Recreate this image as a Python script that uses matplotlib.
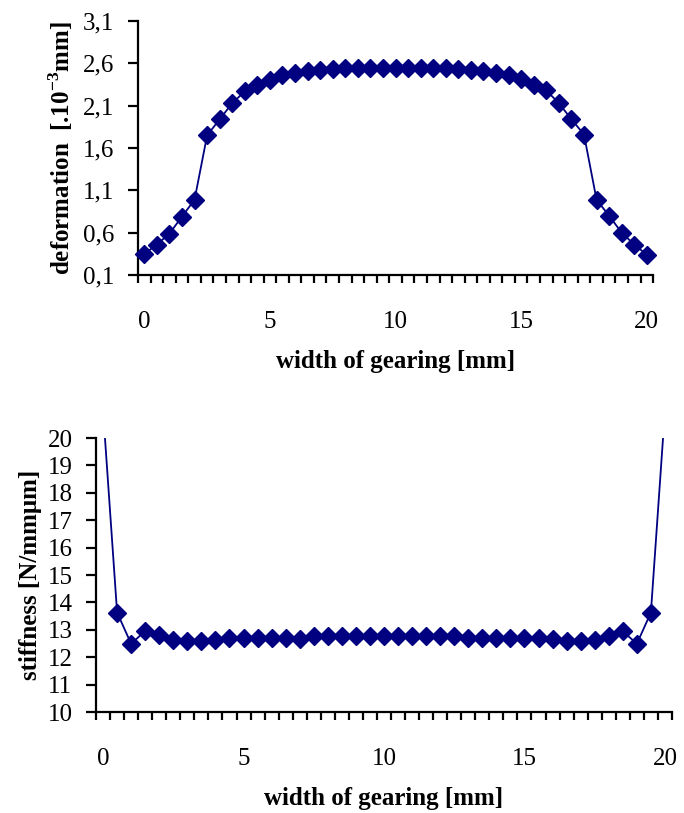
import matplotlib

matplotlib.use("Agg")
import matplotlib.pyplot as plt  # noqa: E402
import numpy as np  # noqa: E402
from matplotlib.ticker import FixedLocator, FuncFormatter  # noqa: E402

plt.rcParams["font.family"] = ["Liberation Serif", "DejaVu Serif"]
plt.rcParams["mathtext.fontset"] = "custom"
plt.rcParams["mathtext.rm"] = "Liberation Serif"
plt.rcParams["mathtext.bf"] = "Liberation Serif:bold"

# width of gearing [mm], one point every 0.5 mm
width = [i * 0.5 for i in range(41)]

deformation = [
    0.35, 0.46, 0.59, 0.79, 0.99, 1.75, 1.94, 2.13, 2.27, 2.34,
    2.40, 2.46, 2.49, 2.51, 2.52, 2.53, 2.54, 2.54, 2.54, 2.54,
    2.54,
    2.54, 2.54, 2.54, 2.54, 2.53, 2.52, 2.51, 2.49, 2.46, 2.41,
    2.34, 2.28, 2.13, 1.94, 1.76, 0.99, 0.80, 0.60, 0.46, 0.34,
]

stiffness = [
    21.0, 13.63, 12.49, 12.96, 12.80, 12.63, 12.58, 12.58, 12.62, 12.69,
    12.69, 12.69, 12.69, 12.69, 12.68, 12.77, 12.77, 12.77, 12.77, 12.76,
    12.77,
    12.77, 12.77, 12.77, 12.77, 12.76, 12.69, 12.69, 12.69, 12.69, 12.69,
    12.69, 12.66, 12.61, 12.61, 12.63, 12.79, 12.95, 12.49, 13.63, 21.0,
]

x_labels = [0, 5, 10, 15, 20]
def_ticks = [0.1, 0.6, 1.1, 1.6, 2.1, 2.6, 3.1]
stiff_ticks = list(range(10, 21))

COLOR = "#000080"
comma = FuncFormatter(lambda v, _: f"{v:.1f}".replace(".", ","))


def style_axes(ax, yticks, ylim):
    for side in ("top", "right"):
        ax.spines[side].set_visible(False)
    for side in ("left", "bottom"):
        ax.spines[side].set_linewidth(1.6)
    ax.set_xlim(-0.25, 20.25)
    ax.set_ylim(*ylim)
    ax.set_yticks(yticks)
    ax.set_xticks(x_labels)
    ax.xaxis.set_minor_locator(FixedLocator(np.arange(-0.25, 20.3, 0.5)))
    ax.tick_params(axis="x", which="major", length=0, pad=26, labelsize=18)
    ax.tick_params(axis="x", which="minor", length=6, width=1.6, direction="out")
    ax.tick_params(axis="y", length=7, width=1.6, pad=10, labelsize=18)


fig = plt.figure(figsize=(6.84, 8.13), dpi=100)

ax1 = fig.add_axes([0.2018, 0.6617, 0.753, 0.3124])
ax1.plot(width, deformation, color=COLOR, lw=1.3, marker="D", ms=9.5,
         clip_on=False, zorder=3)
style_axes(ax1, def_ticks, (0.1, 3.1))
ax1.yaxis.set_major_formatter(comma)
ax1.set_xlabel("width of gearing [mm]", fontsize=18, fontweight="bold",
               labelpad=12)
ax1.set_ylabel(r"deformation  [.10$^{\mathbf{-3}}$mm]", fontsize=18,
               fontweight="bold", labelpad=6)

ax2 = fig.add_axes([0.1404, 0.1242, 0.842, 0.337])
ax2.plot(width, stiffness, color=COLOR, lw=1.3, marker="D", ms=9.5, zorder=3)
style_axes(ax2, stiff_ticks, (10, 20))
ax2.set_xlabel("width of gearing [mm]", fontsize=18, fontweight="bold",
               labelpad=12)
ax2.set_ylabel("stiffness [N/mmμm]", fontsize=18, fontweight="bold",
               labelpad=4)

fig.savefig("out.png", dpi=100)
